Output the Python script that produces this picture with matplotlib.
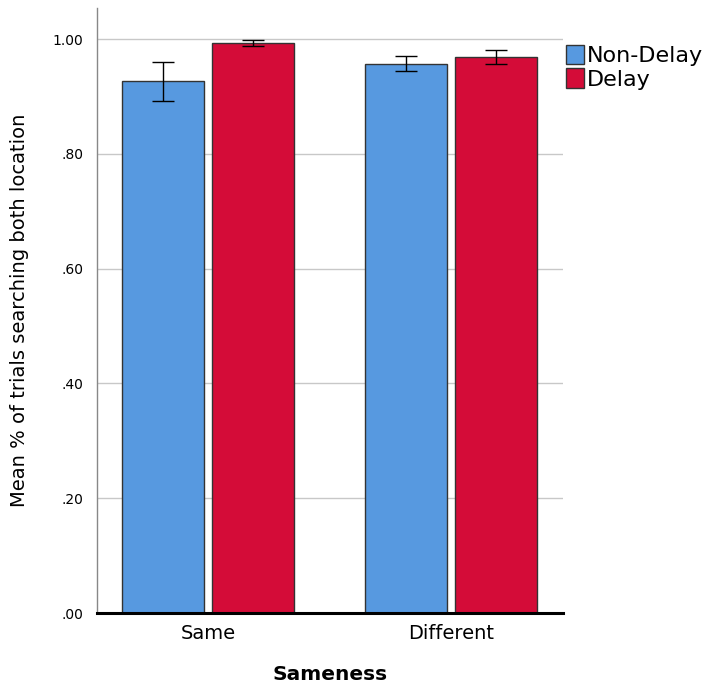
import numpy as np
import matplotlib
matplotlib.use("Agg")
import matplotlib.pyplot as plt

# data
categories = ["Same", "Different"]
series = ["Non-Delay", "Delay"]
means = {
    "Non-Delay": [0.927, 0.957],
    "Delay": [0.994, 0.969],
}
errors = {
    "Non-Delay": [0.034, 0.013],
    "Delay": [0.005, 0.012],
}
yticks = [0.0, 0.2, 0.4, 0.6, 0.8, 1.0]
ytick_labels = [".00", ".20", ".40", ".60", ".80", "1.00"]

colors = {"Non-Delay": "#5799e0", "Delay": "#d40c38"}

fig = plt.figure(figsize=(7.13, 6.86), dpi=100)
ax = fig.add_axes([0.136, 0.1064, 0.654, 0.8816])

x = np.arange(len(categories))
width = 0.336
gap = 0.035
offsets = [-(width + gap) / 2, (width + gap) / 2]

for s, off in zip(series, offsets):
    ax.bar(x + off, means[s], width, color=colors[s], edgecolor="#333333",
           linewidth=1.0, label=s, zorder=3)
    ax.errorbar(x + off, means[s], yerr=errors[s], fmt="none", ecolor="black",
                elinewidth=1.0, capsize=8, capthick=1.0, zorder=4)

ax.set_xlim(-0.457, 1.463)
ax.set_ylim(0, 1.054)
ax.set_yticks(yticks)
ax.set_yticklabels(ytick_labels)
ax.set_xticks(x)
ax.set_xticklabels(categories, fontsize=14)
ax.tick_params(axis="y", length=0, pad=10, labelsize=10)
ax.tick_params(axis="x", length=0, pad=8)
ax.yaxis.grid(True, color="#c8c8c8", linewidth=1.0, zorder=0)
ax.set_axisbelow(True)

for side in ["top", "right"]:
    ax.spines[side].set_visible(False)
ax.spines["left"].set_color("#888888")
ax.spines["left"].set_linewidth(1.0)
ax.spines["bottom"].set_color("black")
ax.spines["bottom"].set_linewidth(2.2)
ax.spines["bottom"].set_zorder(5)

ax.set_ylabel("Mean % of trials searching both location", fontsize=14, labelpad=17)
ax.set_xlabel("Sameness", fontsize=14.5, fontweight="bold", labelpad=16)

ax.legend(loc="upper left", bbox_to_anchor=(1.006, 0.94), frameon=False,
          fontsize=16, handlelength=0.8, handleheight=0.95, handletextpad=0.15,
          labelspacing=0.12, borderaxespad=0.0, borderpad=0.0)

fig.savefig("out.png", dpi=100)
